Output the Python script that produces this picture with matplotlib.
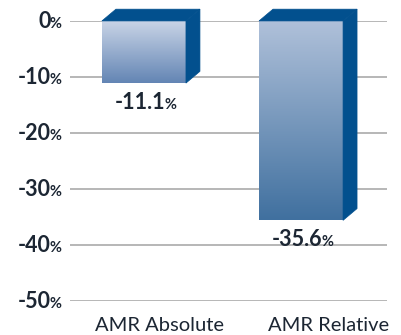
import numpy as np
import matplotlib.pyplot as plt
from matplotlib.colors import LinearSegmentedColormap
from matplotlib.patches import Polygon

# donnees
categories = ['AMR Absolute', 'AMR Relative']
valeurs = [-11.1, -35.6]
ticks = [0, -10, -20, -30, -40, -50]

# style
texte = '#1c2633'
cote = '#02508e'
degrades = [('#cad5e7', '#6385b4'), ('#b0c1da', '#40709f')]
police = 'Lato'


def texte_pct(ax, x, y, nombre, dx_px, dy_px, ha, fig, taille=15.5, taille_pct=10.5):
    """ecrit 'nombre' en gras suivi d'un % plus petit"""
    r = fig.canvas.get_renderer()
    t1 = ax.annotate(nombre, (x, y), xytext=(0, 0), textcoords='offset pixels',
                     fontsize=taille, fontweight='bold', family=police, color=texte,
                     ha='left', va='baseline', annotation_clip=False)
    t2 = ax.annotate('%', (x, y), xytext=(0, 0), textcoords='offset pixels',
                     fontsize=taille_pct, fontweight='bold', family=police, color=texte,
                     ha='left', va='baseline', annotation_clip=False)
    w1 = t1.get_window_extent(r).width
    w2 = t2.get_window_extent(r).width
    gap = -1.0
    total = w1 + gap + w2
    if ha == 'right':
        x0 = dx_px - total
    else:
        x0 = dx_px - total / 2
    t1.set_position((x0, dy_px))
    t2.set_position((x0 + w1 + gap, dy_px))


fig = plt.figure(figsize=(4.02, 3.35), dpi=100)
ax = fig.add_axes([0.174, 0.1015, 0.789, 0.836])

x = np.arange(len(categories))
largeur = 0.535
prof_x = 0.089
prof_y = 2.1

ax.set_xlim(-0.471, 1.548)
ax.set_ylim(-50, 0)

# grille
for t in ticks:
    ax.axhline(t, color='#a3a3a3', lw=1.1, zorder=1)

# barres 3D
for i, v in enumerate(valeurs):
    x0 = x[i] - largeur / 2
    x1 = x[i] + largeur / 2
    cmap = LinearSegmentedColormap.from_list('d%d' % i, degrades[i])
    grad = np.linspace(0, 1, 256).reshape(-1, 1)
    ax.imshow(grad, cmap=cmap, extent=[x0, x1, v, 0], aspect='auto',
              origin='upper', zorder=3, clip_on=False)
    dessus = Polygon([(x0, 0), (x0 + prof_x, prof_y), (x1 + prof_x, prof_y), (x1, 0)],
                     closed=True, facecolor=cote, edgecolor=cote, lw=0.5, zorder=3, clip_on=False)
    flanc = Polygon([(x1, 0), (x1 + prof_x, prof_y), (x1 + prof_x, v + prof_y), (x1, v)],
                    closed=True, facecolor=cote, edgecolor=cote, lw=0.5, zorder=3, clip_on=False)
    ax.add_patch(dessus)
    ax.add_patch(flanc)

ax.set_xlim(-0.471, 1.548)
ax.set_ylim(-50, 0)
ax.axis('off')

# etiquettes de l'axe y
for t in ticks:
    texte_pct(ax, -0.471, t, str(t), -8, -7, 'right', fig)

# valeurs sous les barres
for i, v in enumerate(valeurs):
    texte_pct(ax, x[i], v, '%.1f' % v, 2, -26, 'center', fig)

# categories
decal = [16, 28]
for i, c in enumerate(categories):
    ax.annotate(c, (x[i], -50), xytext=(decal[i], -30), textcoords='offset pixels',
                fontsize=14.5, family=police, color=texte, ha='center', va='baseline',
                annotation_clip=False)

fig.savefig('out.png', dpi=100)
